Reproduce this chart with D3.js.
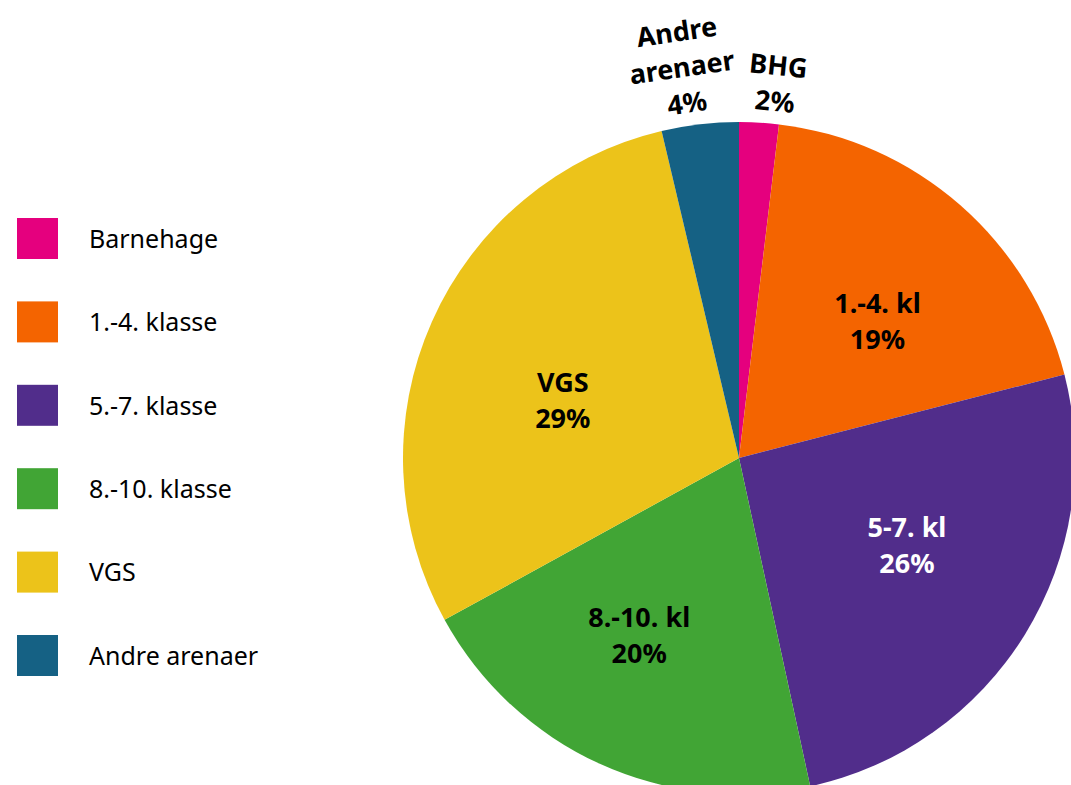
<!DOCTYPE html>
<html>
<head>
<meta charset="utf-8">
<script src="https://cdn.jsdelivr.net/npm/d3@7"></script>
<style>
  body { margin: 0; background: #fff; }
  svg { display: block; font-family: "Noto Sans", sans-serif; }
</style>
</head>
<body>
<svg></svg>
<script>
var categories = ["Barnehage", "1.-4. klasse", "5.-7. klasse", "8.-10. klasse", "VGS", "Andre arenaer"];
var shortLabels = [["BHG"], ["1.-4. kl"], ["5-7. kl"], ["8.-10. kl"], ["VGS"], ["Andre", "arenaer"]];
var values = [1.9, 19.1, 25.6, 20.4, 29.3, 3.7];
var colors = ["#e5007e", "#f46400", "#512d8b", "#41a535", "#ecc31a", "#156184"];
var labelColors = ["#000", "#000", "#fff", "#000", "#000", "#000"];
var outside = [true, false, false, false, false, true];
// hand placement tweaks from the slice centroid, like the original
var nudges = [[15, 5], [10, 10], [2, -15], [-19, 0], [2, 22], [-13, -13]];

var width = 1071, height = 785;
var svg = d3.select("svg").attr("width", width).attr("height", height);

var cx = 739, cy = 458, radius = 336;

var data = categories.map((c, i) => ({ name: c, value: values[i], i: i }));

var pie = d3.pie().sort(null).value(d => d.value);
var arc = d3.arc().innerRadius(0).outerRadius(radius);
var labelArc = d3.arc().innerRadius(195).outerRadius(195);
var outerArc = d3.arc().innerRadius(380).outerRadius(380);

var g = svg.append("g").attr("transform", `translate(${cx},${cy})`);

var arcs = pie(data);

g.selectAll("path")
    .data(arcs)
    .enter()
    .append("path")
    .attr("d", arc)
    .attr("fill", d => colors[d.data.i]);

var labels = g.selectAll("text.lbl")
    .data(arcs)
    .enter()
    .append("text")
    .attr("class", "lbl")
    .attr("font-size", 27)
    .attr("font-weight", "bold")
    .attr("text-anchor", "middle")
    .attr("fill", d => labelColors[d.data.i])
    .attr("transform", d => {
        var i = d.data.i;
        var p = outside[i] ? outerArc.centroid(d) : labelArc.centroid(d);
        var x = p[0] + nudges[i][0], y = p[1] + nudges[i][1];
        var rot = outside[i] ? Math.atan2(x, -y) * 180 / Math.PI : 0;
        return `translate(${x},${y}) rotate(${rot})`;
    });

labels.each(function(d) {
    var lines = shortLabels[d.data.i].concat([Math.round(d.data.value) + "%"]);
    var t = d3.select(this);
    var lh = 36;
    var start = -((lines.length - 1) * lh) / 2 + 9.5;
    lines.forEach((l, k) => {
        t.append("tspan")
            .attr("x", 0)
            .attr("y", start + k * lh)
            .text(l);
    });
});

// legend
var legendY = d3.scalePoint()
    .domain(categories)
    .range([218, 635]);

var legend = svg.append("g")
    .selectAll("g")
    .data(categories)
    .enter()
    .append("g")
    .attr("transform", d => `translate(17,${legendY(d)})`);

legend.append("rect")
    .attr("width", 41)
    .attr("height", 41)
    .attr("fill", (d, i) => colors[i]);

legend.append("text")
    .attr("x", 72)
    .attr("y", 21)
    .attr("dy", "0.35em")
    .attr("font-size", 25)
    .attr("fill", "#000")
    .text(d => d);
</script>
</body>
</html>
